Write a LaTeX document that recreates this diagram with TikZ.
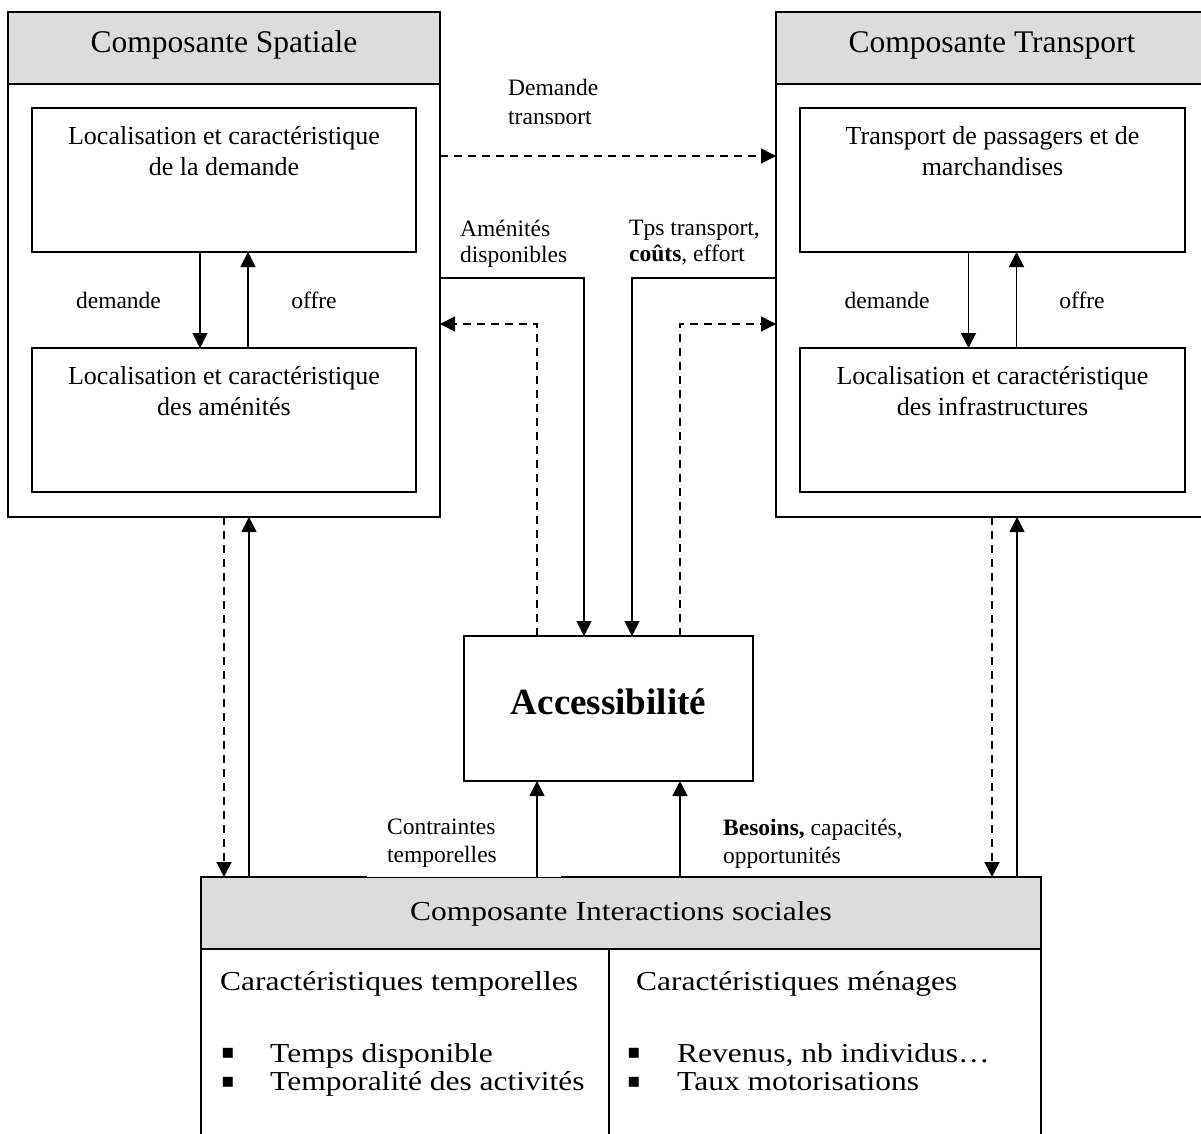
\documentclass[tikz,border=0pt]{standalone}
\usepackage{graphicx}
\usepackage{fontspec}
\setmainfont{Liberation Serif}
\newfontfamily\dejavu{DejaVu Sans}
\usetikzlibrary{arrows.meta}
\definecolor{hdrgray}{RGB}{220,220,220}
\newcommand\squeezed[1]{\scalebox{1}[0.87]{#1}}
\begin{document}
\begin{tikzpicture}[x=1pt,y=-1pt,
  frame/.style={draw, line width=1.8pt, inner sep=0pt, outer sep=0pt, anchor=north west},
  hdr/.style={frame, fill=hdrgray},
  arr/.style={line width=1.5pt, -{Triangle[width=15pt,length=15pt]}},
  darr/.style={arr, dash pattern=on 8pt off 6pt},
  boxtext/.style={font=\fontsize{26}{31}\selectfont, inner sep=0pt, align=center, anchor=north},
  lbl/.style={font=\fontsize{23.5}{26}\selectfont, inner sep=0pt, align=left, anchor=north west},
  small/.style={font=\fontsize{23.5}{26}\selectfont, inner sep=0pt, anchor=base},
  big/.style={font=\fontsize{31.5}{36}\selectfont, inner sep=0pt, anchor=base},
  bigw/.style={big, anchor=base west},
  bul/.style={font=\dejavu\fontsize{20}{24}\selectfont, inner sep=0pt, anchor=base},
]
\useasboundingbox (0,0) rectangle (1201,1133);
\clip (0,0) rectangle (1201,1133);
\fill[white] (0,0) rectangle (1201,1133);

% Composante Spatiale
\node[frame, minimum width=432pt, minimum height=505pt] (sp) at (8,12) {};
\node[hdr, minimum width=432pt, minimum height=72pt] (sph) at (8,12) {};
\node[big] (spt) at (224,52) {Composante Spatiale};
\node[frame, minimum width=384pt, minimum height=144pt] (sp1) at (32,108) {};
\node[frame, minimum width=384pt, minimum height=144pt] (sp2) at (32,348) {};
\node[boxtext] (sp1t) at (224,126) {Localisation et caractéristique\\de la demande};
\node[boxtext] (sp2t) at (224,366) {Localisation et caractéristique\\des aménités};
\draw[arr] ([xshift=-24pt]sp1.south) -- ([xshift=-24pt]sp2.north);
\draw[arr] ([xshift=24pt]sp2.north) -- ([xshift=24pt]sp1.south);
\node[small] (spd) at (118.5,308) {demande};
\node[small] (spo) at (314,308) {offre};

% Composante Transport
\node[frame, minimum width=432pt, minimum height=505pt] (tr) at (776,12) {};
\node[hdr, minimum width=432pt, minimum height=72pt] (trh) at (776,12) {};
\node[big] (trt) at (992,52) {Composante Transport};
\node[frame, minimum width=385pt, minimum height=144pt] (tr1) at (800,108) {};
\node[frame, minimum width=385pt, minimum height=144pt] (tr2) at (800,348) {};
\node[boxtext] (tr1t) at (992.5,126) {Transport de passagers et de\\marchandises};
\node[boxtext] (tr2t) at (992.5,366) {Localisation et caractéristique\\des infrastructures};
\draw[arr] ([xshift=-24pt]tr1.south) -- ([xshift=-24pt]tr2.north);
\draw[arr] ([xshift=24pt]tr2.north) -- ([xshift=24pt]tr1.south);
\node[small] (trd) at (887,308) {demande};
\node[small] (tro) at (1082,308) {offre};

% Accessibilite
\node[frame, minimum width=289pt, minimum height=145pt] (acc) at (464,636) {};
\node[font=\bfseries\fontsize{37}{40}\selectfont, inner sep=0pt, anchor=base] (acct) at (608.5,714) {Accessibilité};

% Composante Interactions sociales
\node[frame, minimum width=840pt, minimum height=270pt] (soc) at (201,877) {};
\node[hdr, minimum width=840pt, minimum height=72pt] (soch) at (201,877) {};
\coordinate (xdiv) at (609,0);
\draw[line width=1.8pt] (soch.south -| xdiv) -- (soc.south -| xdiv);
\node[big] (soct) at (621,920) {\squeezed{Composante Interactions sociales}};
\node[bigw] (ctm) at (220,990) {\squeezed{Caractéristiques temporelles}};
\node[bigw] (cmn) at (636,990) {\squeezed{Caractéristiques ménages}};
\node[bul] (b1) at (228,1058) {▪};
\node[bul] (b2) at (228,1087) {▪};
\node[bul] (b3) at (634,1058) {▪};
\node[bul] (b4) at (634,1087) {▪};
\node[bigw] (i1) at (270,1062) {\squeezed{Temps disponible}};
\node[bigw] (i2) at (270,1090) {\squeezed{Temporalité des activités}};
\node[bigw] (i3) at (677,1062) {\squeezed{Revenus, nb individus…}};
\node[bigw] (i4) at (677,1090) {\squeezed{Taux motorisations}};

% label backgrounds
\fill[white] (367,800) rectangle (561,877);
\node[lbl, font=\fontsize{23.5}{28}\selectfont] (ct) at (387,819) {Contraintes\\temporelles};
\node[lbl, font=\fontsize{23.5}{28}\selectfont] (bs) at (723,819) {\textbf{Besoins,} capacités,\\opportunités};
\node[lbl] (am) at (460,220) {Aménités\\disponibles};
\node[lbl] (tps) at (629,220) {Tps transport,\\\textbf{coûts}, effort};
\begin{scope}
\clip (450,60) rectangle (700,123);
\node[lbl, font=\fontsize{23.5}{29}\selectfont] (dt) at (508,79) {Demande\\transport};
\end{scope}

% connectors between components
\coordinate (yd) at (0,156);
\coordinate (ya) at (0,278);
\coordinate (yr) at (0,324);
\draw[darr] (sp.east |- yd) -- (tr.west |- yd);
\coordinate (a1) at ([xshift=-24.5pt]acc.north);
\coordinate (a2) at ([xshift=23.5pt]acc.north);
\draw[arr] (sp.east |- ya) -| (a1);
\draw[arr] (tr.west |- ya) -| (a2);
\coordinate (d1) at ([xshift=-71.5pt]acc.north);
\coordinate (d2) at ([xshift=71.5pt]acc.north);
\draw[darr] (d1) |- (sp.east |- yr);
\draw[darr] (d2) |- (tr.west |- yr);
\coordinate (u1) at ([xshift=-71.5pt]acc.south);
\coordinate (u2) at ([xshift=71.5pt]acc.south);
\draw[arr] (u1 |- soc.north) -- (u1);
\draw[arr] (u2 |- soc.north) -- (u2);
\draw[darr] (sp.south) -- (sp.south |- soc.north);
\coordinate (s2) at ([xshift=25pt]sp.south);
\draw[arr] (s2 |- soc.north) -- (s2);
\draw[darr] (tr.south) -- (tr.south |- soc.north);
\coordinate (t2) at ([xshift=25pt]tr.south);
\draw[arr] (t2 |- soc.north) -- (t2);
\end{tikzpicture}
\end{document}
